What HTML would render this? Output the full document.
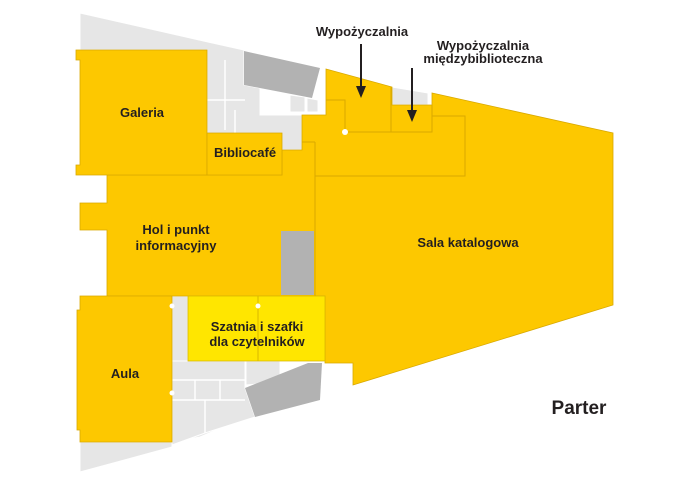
<!DOCTYPE html>
<html><head><meta charset="utf-8"><style>
html,body{margin:0;padding:0;background:#fff;}
svg{display:block}
text{font-family:"Liberation Sans",Arial,sans-serif;font-weight:bold;fill:#231f20;font-size:13px;text-anchor:middle}
</style></head><body>
<svg width="690" height="488" viewBox="0 0 690 488" xmlns="http://www.w3.org/2000/svg">
<!-- light gray silhouette -->
<g fill="#e6e6e6" stroke="#fff" stroke-width="1">
<polygon points="80,13 208,42 244,50 244,85 260,88 260,115 302,115 302,150 282,150 282,175 207,175 207,50 80,50"/>
<polygon points="172,296 188,296 188,361 245,361 245,390 252,415 200,437 172,442 80,442 80,470 172,442"/>
<polygon points="80,442 172,442 172,447 80,472"/>
<polygon points="172,361 245,361 245,388 255,417 205,433 172,445"/>
<polygon points="246,361 280,361 280,382 246,385"/>
<polygon points="290,95 305,97 305,112 290,112"/>
<polygon points="307,98 318,100 318,112 307,112"/>
<polygon points="392,87 428,93 428,105 392,105"/>
</g>
<g fill="none" stroke="#fff" stroke-width="1.5">
<line x1="172" y1="380" x2="245" y2="380"/><line x1="195" y1="380" x2="195" y2="400"/><line x1="220" y1="380" x2="220" y2="400"/><line x1="172" y1="400" x2="245" y2="400"/><line x1="205" y1="400" x2="205" y2="433"/>
<line x1="225" y1="60" x2="225" y2="130"/><line x1="207" y1="100" x2="245" y2="100"/><line x1="235" y1="110" x2="235" y2="133"/>
</g>
<!-- white hole -->
<polygon points="260,88 290,93 290,115 260,115" fill="#fff"/>
<!-- dark gray blocks -->
<polygon points="244,51 320,68 312,98 244,85" fill="#b2b2b2"/>
<polygon points="245,388 308,363 322,363 320,400 255,417" fill="#b2b2b2"/>
<!-- main yellow -->
<g fill="#fdc800" stroke="#d9a900" stroke-width="0.8">
<polygon points="302,115 326,115 326,69 392,87 392,105 432,105 432,93 613,133 613,305 353,385 353,363 325,363 325,296 107,296 107,230 80,230 80,203 107,203 107,175 282,175 282,150 302,150"/>
<polygon points="76,50 207,50 207,175 76,175 76,165 80,165 80,60 76,60"/>
<polygon points="207,133 282,133 282,175 207,175"/>
<polygon points="80,296 172,296 172,442 80,442 80,430 77,430 77,310 80,310"/>
</g>
<polygon points="188,296 325,296 325,361 188,361" fill="#ffe600" stroke="#d9b800" stroke-width="0.8"/>
<line x1="258" y1="296" x2="258" y2="361" stroke="#d9b800"/>
<rect x="281" y="231" width="33" height="64" fill="#b2b2b2"/>
<!-- internal lines -->
<g fill="none" stroke="#d9a900" stroke-width="1">
<polyline points="326,100 345,100 345,132 432,132 432,105"/>
<line x1="391" y1="87" x2="391" y2="132"/>
<polyline points="432,116 465,116 465,176 315,176"/>
<line x1="315" y1="142" x2="315" y2="296"/>
<polyline points="302,142 315,142"/>
</g>
<circle cx="345" cy="132" r="3" fill="#fff"/>
<circle cx="172" cy="306" r="2.5" fill="#fff"/><circle cx="258" cy="306" r="2.5" fill="#fff"/><circle cx="172" cy="393" r="2.5" fill="#fff"/>
<!-- arrows -->
<g stroke="#231f20" stroke-width="2"><line x1="361" y1="44" x2="361" y2="88"/><line x1="412" y1="68" x2="412" y2="112"/></g>
<polygon points="356,86 366,86 361,98" fill="#231f20"/>
<polygon points="407,110 417,110 412,122" fill="#231f20"/>
<!-- labels -->
<text x="142" y="117">Galeria</text>
<text x="245" y="157">Bibliocafé</text>
<text x="176" y="234">Hol i punkt</text>
<text x="176" y="250">informacyjny</text>
<text x="468" y="247">Sala katalogowa</text>
<text x="257" y="331">Szatnia i szafki</text>
<text x="257" y="346">dla czytelników</text>
<text x="125" y="378">Aula</text>
<text x="362" y="36">Wypożyczalnia</text>
<text x="483" y="50">Wypożyczalnia</text>
<text x="483" y="63">międzybiblioteczna</text>
<text x="579" y="414" style="font-size:19px">Parter</text>
</svg>
</body></html>
